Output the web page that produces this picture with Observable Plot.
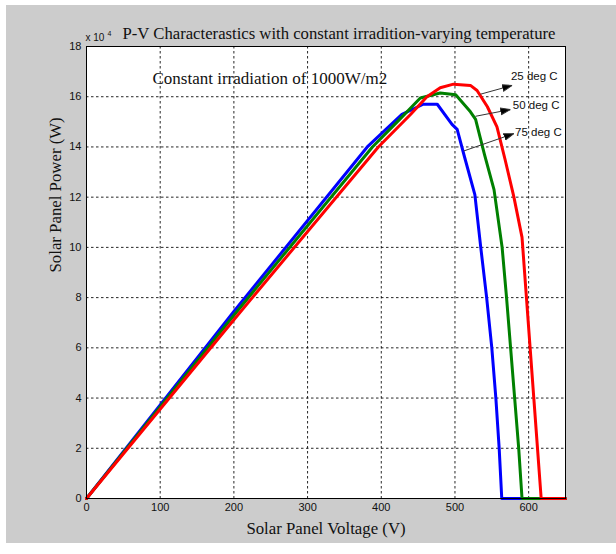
<!DOCTYPE html>
<html>
<head>
<meta charset="utf-8">
<script src="https://cdn.jsdelivr.net/npm/d3@7"></script>
<script src="https://cdn.jsdelivr.net/npm/@observablehq/plot@0.6"></script>
<style>
  html, body { margin: 0; padding: 0; background: #ffffff; }
  #bg { position: absolute; left: 6px; top: 5px; width: 610px; height: 538px; background: #cccccc; }
  #chart { position: absolute; left: 0; top: 0; }
</style>
</head>
<body>
<div id="bg"></div>
<div id="chart"></div>
<script>
// ---- data (power in units of 10^4 W) ----
const seriesNames = ["75 deg C", "50 deg C", "25 deg C"];
const seriesColors = ["#0000ff", "#008000", "#ff0000"];

const voltage75 = [0, 200, 381, 428, 457, 476, 496, 503, 513, 527, 535, 543, 550, 555.5, 560, 563.5, 650];
const power75   = [0, 7.45, 14, 15.3, 15.7, 15.7, 14.9, 14.7, 13.6, 12.1, 10, 8, 6, 4, 2, 0, 0];

const voltage50 = [0, 200, 388, 425, 453, 480, 501, 521, 528, 540, 553, 564, 570, 575.5, 581, 586.5, 591, 650];
const power50   = [0, 7.3, 14, 15.1, 15.95, 16.15, 16.08, 15.4, 15.1, 13.7, 12.3, 10, 8, 6, 4, 2, 0, 0];

const voltage25 = [0, 200, 396, 440, 462, 480, 498, 521, 530, 544, 557, 568, 580, 591, 597, 602, 607, 612, 617, 650];
const power25   = [0, 7.12, 14, 15.3, 16.0, 16.36, 16.5, 16.45, 16.25, 15.6, 14.8, 13.5, 12, 10.4, 8, 6, 4, 2, 0, 0];

const xTicks = [0, 100, 200, 300, 400, 500, 600];
const yTicks = [0, 2, 4, 6, 8, 10, 12, 14, 16, 18];

const titleText = "P-V Characterastics with constant irradition-varying temperature";
const xLabel = "Solar Panel Voltage (V)";
const yLabel = "Solar Panel Power (W)";
const noteText = "Constant irradiation of 1000W/m2";
const noteX = [89.6];
const noteY = [16.73];

// annotation arrows (data units)
const arrowLabels = ["25 deg C", "50 deg C", "75 deg C"];
const arrowX1 = [534.6, 527.8, 512];
const arrowY1 = [16.1, 15.22, 13.84];
const arrowX2 = [577.6, 575.3, 579.8];
const arrowY2 = [16.45, 15.49, 14.53];
const labelX = [576, 578.5, 581.5];
const labelY = [16.8, 15.65, 14.57];

// ---- build tables ----
const voltages = [voltage75, voltage50, voltage25];
const powers = [power75, power50, power25];
const curves = [];
seriesNames.forEach((name, i) => {
  voltages[i].forEach((v, j) => curves.push({series: name, v, p: powers[i][j]}));
});
const arrows = arrowLabels.map((label, i) => ({
  label, x1: arrowX1[i], y1: arrowY1[i], x2: arrowX2[i], y2: arrowY2[i], lx: labelX[i], ly: labelY[i]
}));

function filledArrow(color, context) {
  const m = d3.create("svg:marker")
    .attr("viewBox", "-10 -5 10 10")
    .attr("markerWidth", 10)
    .attr("markerHeight", 10)
    .attr("refX", 0)
    .attr("refY", 0)
    .attr("markerUnits", "userSpaceOnUse")
    .attr("orient", "auto");
  m.append("path").attr("d", "M-10,-3.4L0,0L-10,3.4Z").attr("fill", "#000");
  return m.node();
}

const serif = "'Liberation Serif', 'Times New Roman', serif";
const sans = "'Liberation Sans', Arial, sans-serif";

const chart = Plot.plot({
  width: 616,
  height: 554,
  marginLeft: 86,
  marginRight: 51,
  marginTop: 46,
  marginBottom: 56,
  style: {background: "transparent", overflow: "visible", fontFamily: sans},
  x: {domain: [0, 650]},
  y: {domain: [0, 18]},
  color: {domain: seriesNames, range: seriesColors},
  marks: [
    Plot.frame({fill: "white", stroke: null}),
    Plot.gridX(xTicks, {stroke: "#000", strokeOpacity: 0.85, strokeWidth: 1, strokeDasharray: "2.5,2.5"}),
    Plot.gridY(yTicks, {stroke: "#000", strokeOpacity: 0.85, strokeWidth: 1, strokeDasharray: "2.5,2.5"}),
    Plot.line(curves, {x: "v", y: "p", z: "series", stroke: "series", strokeWidth: 3, strokeLinejoin: "round"}),
    Plot.frame({stroke: "#000", strokeWidth: 1}),
    Plot.axisX(xTicks, {tickSize: 0, tickPadding: 5, fontSize: 11, fill: "#111", label: null}),
    Plot.axisY(yTicks, {tickSize: 0, tickPadding: 5, fontSize: 11, fill: "#111", label: null}),
    Plot.link(arrows, {x1: "x1", y1: "y1", x2: "x2", y2: "y2", stroke: "#333", strokeWidth: 1, markerEnd: filledArrow}),
    Plot.text(arrows, {x: "lx", y: "ly", text: "label", textAnchor: "start", fontSize: 11.5, fill: "#111", fontFamily: sans}),
    Plot.text([noteText], {x: noteX, y: noteY, text: d => d, textAnchor: "start", fontSize: 17, fill: "#111", fontFamily: serif}),
    Plot.text([titleText], {frameAnchor: "top", lineAnchor: "middle", dx: 13, dy: -13, fontSize: 16.7, fill: "#111", fontFamily: serif}),
    Plot.text([xLabel], {frameAnchor: "bottom", lineAnchor: "middle", dy: 30, fontSize: 16.8, fill: "#111", fontFamily: serif}),
    Plot.text([yLabel], {frameAnchor: "left", lineAnchor: "middle", dx: -31, rotate: -90, fontSize: 16.8, fill: "#111", fontFamily: serif}),
    Plot.text(["x 10"], {frameAnchor: "top-left", lineAnchor: "middle", textAnchor: "start", dx: -1, dy: -9, fontSize: 10, fill: "#111", fontFamily: sans}),
    Plot.text(["4"], {frameAnchor: "top-left", lineAnchor: "middle", textAnchor: "start", dx: 21, dy: -13, fontSize: 7, fill: "#111", fontFamily: sans})
  ]
});
document.getElementById("chart").appendChild(chart);
</script>
</body>
</html>
